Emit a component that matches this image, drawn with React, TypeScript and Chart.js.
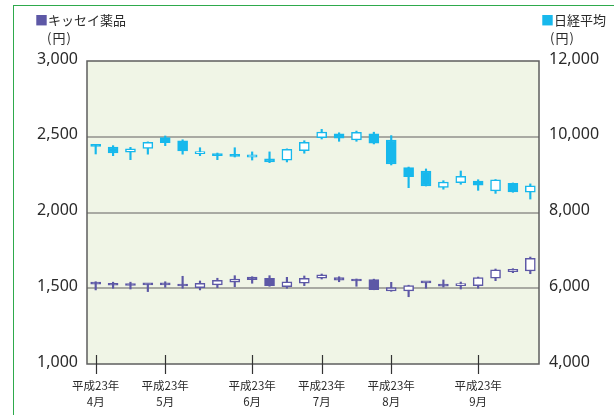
import { useEffect, useRef } from "react";
import { Chart, registerables } from "chart.js";

Chart.register(...registerables);

// ---- data (weekly candles, 2011) ----
const weeks = [
  "4/4", "4/11", "4/18", "4/25", "5/2", "5/9", "5/16", "5/23", "5/30",
  "6/6", "6/13", "6/20", "6/27", "7/4", "7/11", "7/18", "7/25",
  "8/1", "8/8", "8/15", "8/22", "8/29", "9/5", "9/12", "9/19", "9/26",
];
const monthTickIndex = [0, 4, 9, 13, 17, 22];
const monthTickLabels = ["4月", "5月", "6月", "7月", "8月", "9月"];
const eraLabel = "平成23年";

const nikkeiOpen = [9770, 9730, 9590, 9695, 9975, 9890, 9555, 9545, 9485, 9460, 9415, 9380, 9630, 9975, 10075, 9915, 10075, 9915, 9185, 9095, 8665, 8785, 8830, 8570, 8770, 8535];
const nikkeiHigh = [9780, 9765, 9720, 9865, 10020, 9920, 9710, 9570, 9710, 9600, 9600, 9680, 9895, 10195, 10105, 10150, 10120, 10030, 9200, 9150, 8840, 9095, 8865, 8870, 8780, 8755];
const nikkeiLow = [9545, 9500, 9395, 9540, 9765, 9540, 9500, 9395, 9465, 9385, 9315, 9335, 9565, 9940, 9880, 9880, 9810, 9255, 8655, 8700, 8615, 8745, 8585, 8505, 8535, 8355];
const nikkeiClose = [9745, 9570, 9680, 9855, 9845, 9625, 9605, 9500, 9480, 9525, 9335, 9670, 9855, 10125, 9960, 10120, 9830, 9280, 8945, 8700, 8805, 8955, 8720, 8865, 8545, 8705];

const kisseiOpen = [1528, 1525, 1519, 1525, 1535, 1526, 1504, 1522, 1540, 1574, 1566, 1510, 1533, 1566, 1570, 1550, 1557, 1482, 1482, 1537, 1528, 1517, 1517, 1566, 1609, 1614];
const kisseiHigh = [1543, 1540, 1540, 1527, 1543, 1579, 1548, 1566, 1583, 1576, 1583, 1572, 1581, 1594, 1576, 1561, 1560, 1539, 1520, 1539, 1555, 1541, 1574, 1627, 1629, 1706];
const kisseiLow = [1489, 1500, 1495, 1478, 1506, 1500, 1489, 1504, 1510, 1533, 1513, 1500, 1517, 1561, 1543, 1513, 1490, 1480, 1444, 1500, 1508, 1495, 1500, 1550, 1603, 1596];
const kisseiClose = [1527, 1520, 1518, 1522, 1522, 1515, 1533, 1553, 1561, 1557, 1517, 1543, 1566, 1588, 1553, 1548, 1491, 1504, 1517, 1535, 1513, 1517, 1570, 1621, 1625, 1698];

const kisseiAxis = { min: 1000, max: 3000, step: 500 };
const nikkeiAxis = { min: 4000, max: 12000, step: 2000 };

// ---- styles ----
const NIKKEI = "#17b8ec";
const KISSEI = "#5d58a6";
const PLOT_BG = "#f0f5e6";
const GRID = "#a9aaa3";
const FRAME = "#5e5e5e";
const TEXT = "#2a2a2a";
const NUM_FONT = "'Noto Sans', 'Noto Sans CJK JP', sans-serif";
const JP_FONT = "'Noto Sans CJK JP', sans-serif";

const fmt = (v: number) => v.toLocaleString("en-US");

const framePlugin = {
  id: "frame",
  beforeDraw(chart: any) {
    const { ctx, chartArea: a } = chart;
    ctx.save();
    ctx.fillStyle = PLOT_BG;
    ctx.fillRect(a.left, a.top, a.right - a.left, a.bottom - a.top);
    ctx.restore();
  },
  afterDraw(chart: any) {
    const { ctx, chartArea: a } = chart;
    ctx.save();
    ctx.strokeStyle = FRAME;
    ctx.lineWidth = 1.5;
    ctx.strokeRect(a.left, a.top, a.right - a.left, a.bottom - a.top);
    const xs = chart.scales.x;
    ctx.strokeStyle = "#333";
    ctx.lineWidth = 1.2;
    xs.ticks.forEach((_t: any, i: number) => {
      const px = Math.round(xs.getPixelForTick(i)) + 0.5;
      ctx.beginPath();
      ctx.moveTo(px, a.bottom - 9);
      ctx.lineTo(px, a.bottom + 10);
      ctx.stroke();
    });
    ctx.restore();
  },
};

export default function App() {
  const ref = useRef<HTMLCanvasElement | null>(null);

  useEffect(() => {
    if (!ref.current) return;
    const bodyFill = (o: number[], c: number[], col: string) =>
      o.map((v, i) => (c[i] >= v ? "#ffffff" : col));

    const chart = new Chart(ref.current, {
      type: "bar",
      data: {
        labels: weeks,
        datasets: [
          {
            label: "日経平均 wick",
            data: nikkeiLow.map((l, i) => [l, nikkeiHigh[i]]) as any,
            yAxisID: "y2",
            backgroundColor: NIKKEI,
            barThickness: 1.5,
            grouped: false,
            order: 3,
          } as any,
          {
            label: "日経平均",
            data: nikkeiOpen.map((o, i) => [o, nikkeiClose[i]]) as any,
            yAxisID: "y2",
            backgroundColor: bodyFill(nikkeiOpen, nikkeiClose, NIKKEI),
            borderColor: NIKKEI,
            borderWidth: 1.5,
            borderSkipped: false,
            barThickness: 10,
            minBarLength: 2,
            grouped: false,
            order: 1,
          } as any,
          {
            label: "キッセイ薬品 wick",
            data: kisseiLow.map((l, i) => [l, kisseiHigh[i]]) as any,
            yAxisID: "y",
            backgroundColor: KISSEI,
            barThickness: 1.5,
            grouped: false,
            order: 3,
          } as any,
          {
            label: "キッセイ薬品",
            data: kisseiOpen.map((o, i) => [o, kisseiClose[i]]) as any,
            yAxisID: "y",
            backgroundColor: bodyFill(kisseiOpen, kisseiClose, KISSEI),
            borderColor: KISSEI,
            borderWidth: 1.5,
            borderSkipped: false,
            barThickness: 10,
            minBarLength: 2,
            grouped: false,
            order: 1,
          } as any,
        ],
      },
      options: {
        animation: false,
        responsive: false,
        maintainAspectRatio: false,
        layout: { padding: { top: 61, left: 0, right: 0, bottom: 0 } },
        plugins: { legend: { display: false }, tooltip: { enabled: false } },
        scales: {
          x: {
            type: "category",
            offset: true,
            border: { display: false },
            grid: { display: true, drawOnChartArea: false, drawTicks: true, tickLength: 10, color: "transparent" },
            afterBuildTicks: (scale: any) => {
              scale.ticks = scale.ticks.filter((t: any) => monthTickIndex.includes(t.value));
            },
            afterFit: (scale: any) => {
              scale.height = 51;
            },
            ticks: {
              autoSkip: false,
              maxRotation: 0,
              padding: 3,
              color: TEXT,
              font: { family: JP_FONT, size: 11.5, lineHeight: 1.45 },
              callback: (value: any) => {
                const k = monthTickIndex.indexOf(Number(value));
                return k >= 0 ? [eraLabel, monthTickLabels[k]] : "";
              },
            },
          },
          y: {
            position: "left",
            min: kisseiAxis.min,
            max: kisseiAxis.max,
            border: { display: false },
            grid: {
              drawTicks: false,
              lineWidth: 2,
              color: (ctx: any) =>
                ctx.tick && (ctx.tick.value === kisseiAxis.min || ctx.tick.value === kisseiAxis.max)
                  ? "transparent"
                  : GRID,
            },
            afterFit: (scale: any) => {
              scale.width = 87;
            },
            ticks: {
              stepSize: kisseiAxis.step,
              padding: 9,
              labelOffset: -2,
              color: TEXT,
              font: { family: NUM_FONT, size: 16 },
              callback: (v: any) => fmt(Number(v)),
            },
          },
          y2: {
            position: "right",
            min: nikkeiAxis.min,
            max: nikkeiAxis.max,
            border: { display: false },
            grid: { display: false, drawOnChartArea: false, drawTicks: false },
            afterFit: (scale: any) => {
              scale.width = 75;
            },
            ticks: {
              stepSize: nikkeiAxis.step,
              padding: 10,
              labelOffset: -2,
              color: TEXT,
              font: { family: NUM_FONT, size: 16 },
              callback: (v: any) => fmt(Number(v)),
            },
          },
        },
      } as any,
      plugins: [framePlugin],
    });
    return () => chart.destroy();
  }, []);

  const legendStyle: any = {
    position: "absolute",
    fontFamily: JP_FONT,
    fontSize: 13,
    lineHeight: "16px",
    color: TEXT,
    whiteSpace: "nowrap",
  };

  return (
    <div style={{ position: "absolute", left: 0, top: 0, width: 614, height: 415, overflow: "hidden", background: "#fff" }}>
      <div
        style={{
          position: "absolute",
          left: 13,
          top: 5,
          width: 640,
          height: 440,
          border: "1.5px solid #2eaa4c",
        }}
      />
      <canvas ref={ref} width={614} height={415} style={{ position: "absolute", left: 0, top: 0, width: 614, height: 415 }} />
      <div style={{ ...legendStyle, left: 35, top: 12 }}>
        <span style={{ color: KISSEI }}>■</span>キッセイ薬品
      </div>
      <div style={{ ...legendStyle, left: 47, top: 30, letterSpacing: 1 }}>(円)</div>
      <div style={{ ...legendStyle, left: 541, top: 12 }}>
        <span style={{ color: NIKKEI }}>■</span>日経平均
      </div>
      <div style={{ ...legendStyle, left: 550, top: 30, letterSpacing: 1 }}>(円)</div>
    </div>
  );
}
